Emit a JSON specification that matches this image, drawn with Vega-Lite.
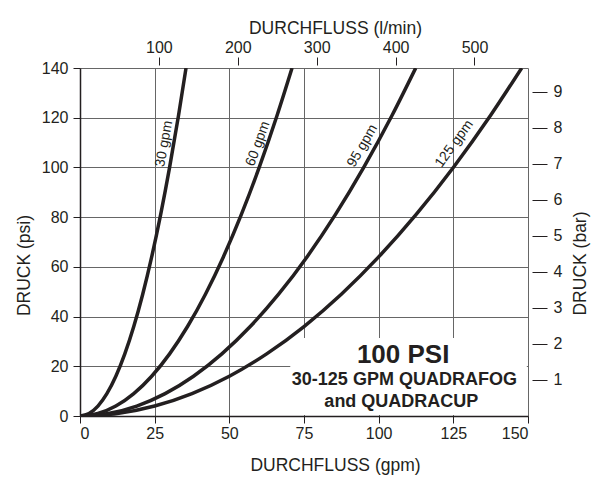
{
  "$schema": "https://vega.github.io/schema/vega-lite/v6.json",
  "width": 448,
  "height": 348,
  "autosize": {"type": "none"},
  "padding": {"left": 80, "top": 68, "right": 67, "bottom": 61},
  "background": "white",
  "config": {
    "view": {"stroke": null},
    "font": "Liberation Sans",
    "axis": {
      "labelFont": "Liberation Sans",
      "titleFont": "Liberation Sans",
      "labelFontSize": 16,
      "titleFontSize": 17.5,
      "titleFontWeight": "normal",
      "labelColor": "#231f20",
      "titleColor": "#231f20",
      "tickColor": "#231f20",
      "domainColor": "#231f20",
      "gridColor": "#666666",
      "gridOpacity": 1,
      "gridWidth": 1
    }
  },
  "datasets": {
    "curves": [
      {"curve": "30 gpm", "gpm": 0, "psi": 0},
      {"curve": "30 gpm", "gpm": 3, "psi": 1.0},
      {"curve": "30 gpm", "gpm": 6, "psi": 4.0},
      {"curve": "30 gpm", "gpm": 9, "psi": 9.0},
      {"curve": "30 gpm", "gpm": 12, "psi": 16.0},
      {"curve": "30 gpm", "gpm": 15, "psi": 25.0},
      {"curve": "30 gpm", "gpm": 18, "psi": 36.0},
      {"curve": "30 gpm", "gpm": 21, "psi": 49.0},
      {"curve": "30 gpm", "gpm": 24, "psi": 64.0},
      {"curve": "30 gpm", "gpm": 27, "psi": 81.0},
      {"curve": "30 gpm", "gpm": 30, "psi": 100.0},
      {"curve": "30 gpm", "gpm": 33, "psi": 121.0},
      {"curve": "30 gpm", "gpm": 35.5, "psi": 140.0},
      {"curve": "60 gpm", "gpm": 0, "psi": 0},
      {"curve": "60 gpm", "gpm": 6, "psi": 1.0},
      {"curve": "60 gpm", "gpm": 12, "psi": 4.0},
      {"curve": "60 gpm", "gpm": 18, "psi": 9.0},
      {"curve": "60 gpm", "gpm": 24, "psi": 16.0},
      {"curve": "60 gpm", "gpm": 30, "psi": 25.0},
      {"curve": "60 gpm", "gpm": 36, "psi": 36.0},
      {"curve": "60 gpm", "gpm": 42, "psi": 49.0},
      {"curve": "60 gpm", "gpm": 48, "psi": 64.0},
      {"curve": "60 gpm", "gpm": 54, "psi": 81.0},
      {"curve": "60 gpm", "gpm": 60, "psi": 100.0},
      {"curve": "60 gpm", "gpm": 66, "psi": 121.0},
      {"curve": "60 gpm", "gpm": 71, "psi": 140.0},
      {"curve": "95 gpm", "gpm": 0, "psi": 0},
      {"curve": "95 gpm", "gpm": 9.5, "psi": 1.0},
      {"curve": "95 gpm", "gpm": 19, "psi": 4.0},
      {"curve": "95 gpm", "gpm": 28.5, "psi": 9.0},
      {"curve": "95 gpm", "gpm": 38, "psi": 16.0},
      {"curve": "95 gpm", "gpm": 47.5, "psi": 25.0},
      {"curve": "95 gpm", "gpm": 57, "psi": 36.0},
      {"curve": "95 gpm", "gpm": 66.5, "psi": 49.0},
      {"curve": "95 gpm", "gpm": 76, "psi": 64.0},
      {"curve": "95 gpm", "gpm": 85.5, "psi": 81.0},
      {"curve": "95 gpm", "gpm": 95, "psi": 100.0},
      {"curve": "95 gpm", "gpm": 104.5, "psi": 121.0},
      {"curve": "95 gpm", "gpm": 112.4, "psi": 140.0},
      {"curve": "125 gpm", "gpm": 0, "psi": 0},
      {"curve": "125 gpm", "gpm": 12.5, "psi": 1.0},
      {"curve": "125 gpm", "gpm": 25, "psi": 4.0},
      {"curve": "125 gpm", "gpm": 37.5, "psi": 9.0},
      {"curve": "125 gpm", "gpm": 50, "psi": 16.0},
      {"curve": "125 gpm", "gpm": 62.5, "psi": 25.0},
      {"curve": "125 gpm", "gpm": 75, "psi": 36.0},
      {"curve": "125 gpm", "gpm": 87.5, "psi": 49.0},
      {"curve": "125 gpm", "gpm": 100, "psi": 64.0},
      {"curve": "125 gpm", "gpm": 112.5, "psi": 81.0},
      {"curve": "125 gpm", "gpm": 125, "psi": 100.0},
      {"curve": "125 gpm", "gpm": 137.5, "psi": 121.0},
      {"curve": "125 gpm", "gpm": 147.9, "psi": 140.0}
    ],
    "labels": [
      {"label": "30 gpm", "gpm": 28.2, "psi": 109.5},
      {"label": "60 gpm", "gpm": 59.6, "psi": 109.5},
      {"label": "95 gpm", "gpm": 94.6, "psi": 108.7},
      {"label": "125 gpm", "gpm": 125.3, "psi": 109.5}
    ],
    "box": [
      {"gpm0": 70.4, "gpm1": 149.6, "psi0": 0.4, "psi1": 31.4}
    ],
    "boxtext": [
      {"line": "100 PSI", "gpm": 108.2, "psi": 21.2},
      {"line": "30-125 GPM QUADRAFOG", "gpm": 108.6, "psi": 12.4},
      {"line": "and QUADRACUP", "gpm": 107.6, "psi": 3.6}
    ],
    "secondary": [
      {"lmin": 0, "bar": 0},
      {"lmin": 567.81, "bar": 9.6526}
    ]
  },
  "layer": [
    {
      "layer": [
        {
          "data": {"name": "box"},
          "mark": {"type": "rect", "fill": "white", "stroke": null},
          "encoding": {
            "x": {
              "field": "gpm0", "type": "quantitative",
              "scale": {"domain": [0, 150], "nice": false, "zero": false},
              "axis": {
                "orient": "bottom",
                "values": [0, 25, 50, 75, 100, 125, 150],
                "grid": true,
                "tickSize": 7,
                "labelPadding": 2,
                "title": "DURCHFLUSS (gpm)",
                "titlePadding": 15,
                "titleX": 255,
                "domainWidth": 1.5
              }
            },
            "x2": {"field": "gpm1"},
            "y": {
              "field": "psi0", "type": "quantitative",
              "scale": {"domain": [0, 140], "nice": false, "zero": false},
              "axis": {
                "orient": "left",
                "values": [0, 20, 40, 60, 80, 100, 120, 140],
                "grid": true,
                "tickSize": 7,
                "labelPadding": 5,
                "title": "DRUCK (psi)",
                "titlePadding": 8,
                "titleY": 197,
                "domainWidth": 1.5
              }
            },
            "y2": {"field": "psi1"}
          }
        },
        {
          "data": {"name": "curves"},
          "mark": {"type": "line", "color": "#231f20", "strokeWidth": 3.5, "interpolate": "monotone", "clip": true},
          "encoding": {
            "x": {"field": "gpm", "type": "quantitative"},
            "y": {"field": "psi", "type": "quantitative"},
            "detail": {"field": "curve"}
          }
        },
        {
          "data": {"name": "labels"},
          "transform": [{"filter": "datum.label === '30 gpm'"}],
          "mark": {"type": "text", "angle": -80, "fontSize": 14, "font": "Liberation Sans", "color": "#231f20", "align": "center", "baseline": "middle"},
          "encoding": {
            "x": {"field": "gpm", "type": "quantitative"},
            "y": {"field": "psi", "type": "quantitative"},
            "text": {"field": "label"}
          }
        },
        {
          "data": {"name": "labels"},
          "transform": [{"filter": "datum.label === '60 gpm'"}],
          "mark": {"type": "text", "angle": -70, "fontSize": 14, "font": "Liberation Sans", "color": "#231f20", "align": "center", "baseline": "middle"},
          "encoding": {
            "x": {"field": "gpm", "type": "quantitative"},
            "y": {"field": "psi", "type": "quantitative"},
            "text": {"field": "label"}
          }
        },
        {
          "data": {"name": "labels"},
          "transform": [{"filter": "datum.label === '95 gpm'"}],
          "mark": {"type": "text", "angle": -60, "fontSize": 14, "font": "Liberation Sans", "color": "#231f20", "align": "center", "baseline": "middle"},
          "encoding": {
            "x": {"field": "gpm", "type": "quantitative"},
            "y": {"field": "psi", "type": "quantitative"},
            "text": {"field": "label"}
          }
        },
        {
          "data": {"name": "labels"},
          "transform": [{"filter": "datum.label === '125 gpm'"}],
          "mark": {"type": "text", "angle": -54, "fontSize": 14, "font": "Liberation Sans", "color": "#231f20", "align": "center", "baseline": "middle"},
          "encoding": {
            "x": {"field": "gpm", "type": "quantitative"},
            "y": {"field": "psi", "type": "quantitative"},
            "text": {"field": "label"}
          }
        },
        {
          "data": {"name": "boxtext"},
          "transform": [{"filter": "datum.line === '100 PSI'"}],
          "mark": {"type": "text", "fontSize": 26, "fontWeight": "bold", "font": "Liberation Sans", "color": "#231f20", "align": "center", "baseline": "alphabetic"},
          "encoding": {
            "x": {"field": "gpm", "type": "quantitative"},
            "y": {"field": "psi", "type": "quantitative"},
            "text": {"field": "line"}
          }
        },
        {
          "data": {"name": "boxtext"},
          "transform": [{"filter": "datum.line !== '100 PSI'"}],
          "mark": {"type": "text", "fontSize": 18, "fontWeight": "bold", "font": "Liberation Sans", "color": "#231f20", "align": "center", "baseline": "alphabetic"},
          "encoding": {
            "x": {"field": "gpm", "type": "quantitative"},
            "y": {"field": "psi", "type": "quantitative"},
            "text": {"field": "line"}
          }
        }
      ]
    },
    {
      "data": {"name": "secondary"},
      "mark": {"type": "point", "opacity": 0},
      "encoding": {
        "x": {
          "field": "lmin", "type": "quantitative",
          "scale": {"domain": [0, 567.81], "nice": false, "zero": false},
          "axis": {
            "orient": "top",
            "values": [100, 200, 300, 400, 500],
            "grid": false,
            "domain": false,
            "offset": 3,
            "tickSize": 8,
            "labelPadding": 2,
            "title": "DURCHFLUSS (l/min)",
            "titlePadding": 2,
            "titleX": 255
          }
        },
        "y": {
          "field": "bar", "type": "quantitative",
          "scale": {"domain": [0, 9.6526], "nice": false, "zero": false},
          "axis": {
            "orient": "right",
            "values": [1, 2, 3, 4, 5, 6, 7, 8, 9],
            "grid": false,
            "domain": false,
            "offset": 4,
            "tickSize": 15,
            "labelPadding": 6,
            "title": "DRUCK (bar)",
            "titleAngle": 270,
            "titleBaseline": "middle",
            "titleAlign": "center",
            "titleX": 48,
            "titleY": 195
          }
        }
      }
    }
  ],
  "resolve": {
    "scale": {"x": "independent", "y": "independent"},
    "axis": {"x": "independent", "y": "independent"}
  }
}
